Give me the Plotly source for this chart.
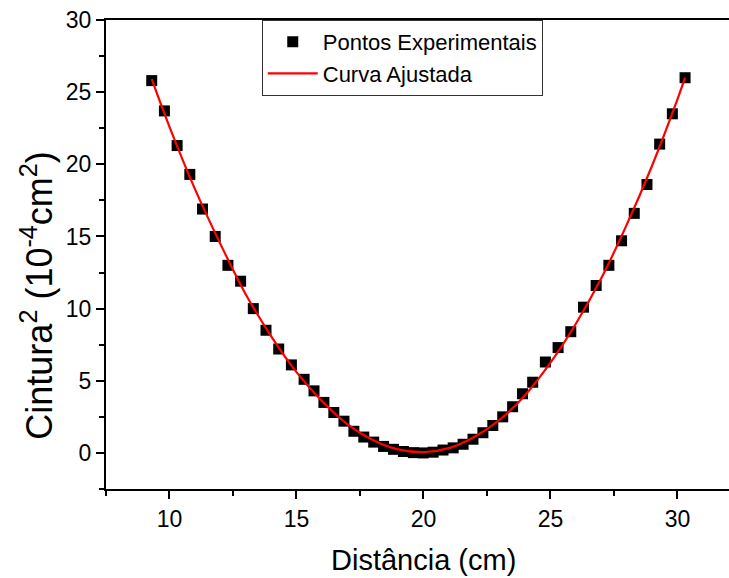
import plotly.graph_objects as go

# Experimental points (distance in cm, waist^2 in 1e-4 cm^2)
x_pts = [9.3, 9.8, 10.3, 10.8, 11.3, 11.8, 12.3, 12.8, 13.3, 13.8, 14.3, 14.8, 15.3,
         15.69, 16.08, 16.47, 16.87, 17.26, 17.65, 18.04, 18.43, 18.82, 19.21, 19.6,
         19.99, 20.38, 20.77, 21.17, 21.56, 21.95, 22.34, 22.73, 23.12, 23.51, 23.9,
         24.3, 24.8, 25.3, 25.8, 26.3, 26.8, 27.3, 27.8, 28.3, 28.8, 29.3, 29.8, 30.3]
y_pts = [25.8, 23.7, 21.3, 19.3, 16.9, 15.0, 13.0, 11.9, 10.0, 8.5, 7.2, 6.1, 5.1,
         4.3, 3.5, 2.8, 2.2, 1.5, 1.1, 0.75, 0.45, 0.25, 0.1, 0.02,
         0.0, 0.05, 0.2, 0.35, 0.6, 0.95, 1.4, 1.9, 2.5, 3.2, 4.1,
         4.9, 6.3, 7.3, 8.4, 10.1, 11.6, 13.0, 14.7, 16.6, 18.6, 21.4, 23.5, 26.0]

# Fitted curve
x_fit = [9.3, 10, 11, 12, 13, 14, 15, 16, 17, 18, 19, 20, 21, 22, 23, 24, 25, 26,
         27, 28, 29, 30, 30.3]
y_fit = [25.9, 22.6, 18.3, 14.5, 11.0, 8.1, 5.6, 3.6, 2.0, 0.9, 0.25, 0.05, 0.33,
         1.1, 2.3, 4.0, 6.25, 8.95, 12.1, 15.8, 19.9, 24.5, 26.0]

x_title = "Distância (cm)"
y_title = "Cintura<sup>2</sup> (10<sup>-4</sup>cm<sup>2</sup>)"
names = ["Pontos Experimentais", "Curva Ajustada"]

FONT = "Liberation Sans, Arial, sans-serif"

fig = go.Figure()
fig.add_trace(go.Scatter(x=x_pts, y=y_pts, mode="markers", name=names[0],
                         marker=dict(symbol="square", size=11, color="black",
                                     line=dict(width=0))))
fig.add_trace(go.Scatter(x=x_fit, y=y_fit, mode="lines", name=names[1],
                         line=dict(color="#ff0000", width=2.2, shape="spline")))

axis_common = dict(showgrid=False, zeroline=False, showline=True, linecolor="black",
                   linewidth=2, ticks="outside", ticklen=8, tickwidth=2, tickcolor="black",
                   tickfont=dict(family=FONT, size=23, color="black"))

fig.update_xaxes(range=[7.5, 32.03], dtick=5, tick0=0, mirror=True,
                 minor=dict(ticks="outside", ticklen=5, dtick=2.5, tick0=0,
                            tickwidth=2, tickcolor="black", showgrid=False),
                 **axis_common)
fig.update_yaxes(range=[-2.5, 30], dtick=5, tick0=0,
                 minor=dict(ticks="outside", ticklen=5, dtick=2.5, tick0=0,
                            tickwidth=2, tickcolor="black", showgrid=False),
                 **axis_common)

fig.add_annotation(x=20, xref="x", y=-0.152, yref="paper", yanchor="middle",
                   text=x_title, showarrow=False,
                   font=dict(family=FONT, size=29, color="black"))
fig.add_annotation(x=-0.111, xref="paper", y=0.414, yref="paper", xanchor="center",
                   yanchor="middle", textangle=-90, text=y_title, showarrow=False,
                   font=dict(family=FONT, size=36, color="black"))

fig.update_layout(
    width=729, height=578,
    margin=dict(l=106, r=0, t=20, b=89),
    paper_bgcolor="white", plot_bgcolor="white",
    font=dict(family=FONT, color="black"),
    showlegend=True,
    legend=dict(x=0.25, y=1, xanchor="left", yanchor="top",
                bgcolor="white", bordercolor="#333333", borderwidth=1,
                font=dict(family=FONT, size=22, color="black"),
                itemwidth=50, tracegroupgap=0),
)

fig.write_html("out.html")
